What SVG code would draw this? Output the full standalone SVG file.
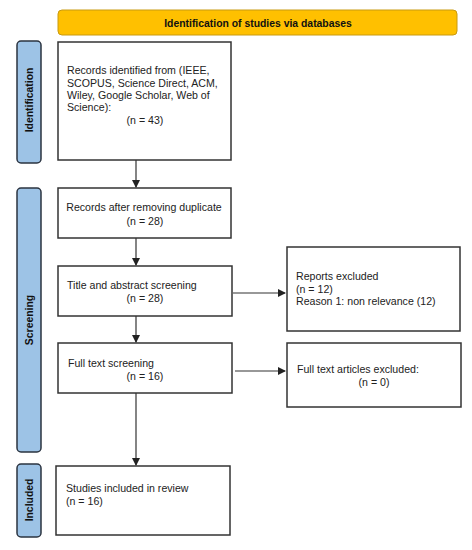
<svg xmlns="http://www.w3.org/2000/svg" width="472" height="550" viewBox="0 0 472 550">
<style>
.box{fill:#fff;stroke:#333;stroke-width:1.5}
.side{fill:#9dc3e6;stroke:#2b3440;stroke-width:1.5}
.t{font-family:"Liberation Sans",Arial,sans-serif;font-size:10.6px;fill:#222}
.b{font-family:"Liberation Sans",Arial,sans-serif;font-size:10.4px;font-weight:bold;fill:#111}
.c{text-anchor:middle}
.ln{stroke:#333;stroke-width:1.2;fill:none}
</style>
<defs>
<marker id="ah" markerWidth="8" markerHeight="8" refX="7" refY="4" orient="auto" markerUnits="userSpaceOnUse">
<path d="M0,0 L8,4 L0,8 Z" fill="#222"/>
</marker>
</defs>
<g id="banner">
<rect x="58" y="10" width="399" height="25" rx="4" fill="#ffc000" stroke="#c89a10" stroke-width="1"/>
<text class="b c" x="258" y="27">Identification of studies via databases</text>
</g>
<g id="side-identification">
<rect class="side" x="17" y="41" width="24" height="122" rx="4"/>
<text class="b c" transform="translate(33,100) rotate(-90)">Identification</text>
</g>
<g id="side-screening">
<rect class="side" x="17" y="188" width="24" height="264" rx="4"/>
<text class="b c" transform="translate(33,320) rotate(-90)">Screening</text>
</g>
<g id="side-included">
<rect class="side" x="17" y="464" width="24" height="73" rx="4"/>
<text class="b c" transform="translate(33,500) rotate(-90)">Included</text>
</g>
<g id="records">
<rect class="box" x="58" y="42" width="173" height="118"/>
<text class="t" x="67" y="74">Records identified from (IEEE,</text>
<text class="t" x="67" y="86.5">SCOPUS, Science Direct, ACM,</text>
<text class="t" x="67" y="99">Wiley, Google Scholar, Web of</text>
<text class="t" x="67" y="111">Science):</text>
<text class="t c" x="145" y="124">(n = 43)</text>
</g>
<g id="dedup">
<rect class="box" x="58" y="188" width="173" height="50"/>
<text class="t c" x="144" y="211">Records after removing duplicate</text>
<text class="t c" x="145" y="225">(n = 28)</text>
</g>
<g id="title-screen">
<rect class="box" x="58" y="266" width="174" height="50"/>
<text class="t" x="67" y="289">Title and abstract screening</text>
<text class="t c" x="145" y="302">(n = 28)</text>
</g>
<g id="reports-excluded">
<rect class="box" x="287" y="247" width="173" height="84"/>
<text class="t" x="296" y="280">Reports excluded</text>
<text class="t" x="296" y="293">(n = 12)</text>
<text class="t" x="296" y="305">Reason 1: non relevance (12)</text>
</g>
<g id="fulltext-screen">
<rect class="box" x="58" y="343" width="174" height="50"/>
<text class="t" x="68" y="367">Full text screening</text>
<text class="t c" x="145" y="380">(n = 16)</text>
</g>
<g id="fulltext-excluded">
<rect class="box" x="287" y="343" width="174" height="64"/>
<text class="t" x="297" y="373">Full text articles excluded:</text>
<text class="t c" x="374" y="386">(n = 0)</text>
</g>
<g id="included">
<rect class="box" x="56" y="466" width="174" height="69"/>
<text class="t" x="66" y="492">Studies included in review</text>
<text class="t" x="66" y="505">(n = 16)</text>
</g>
<g id="connectors">
<line class="ln" x1="136" y1="160" x2="136" y2="187" marker-end="url(#ah)"/>
<line class="ln" x1="136" y1="238" x2="136" y2="265" marker-end="url(#ah)"/>
<line class="ln" x1="233" y1="293" x2="285" y2="293" marker-end="url(#ah)"/>
<line class="ln" x1="136" y1="316" x2="136" y2="342" marker-end="url(#ah)"/>
<line class="ln" x1="235" y1="371" x2="285" y2="371" marker-end="url(#ah)"/>
<line class="ln" x1="136" y1="393" x2="136" y2="465" marker-end="url(#ah)"/>
</g>
</svg>
